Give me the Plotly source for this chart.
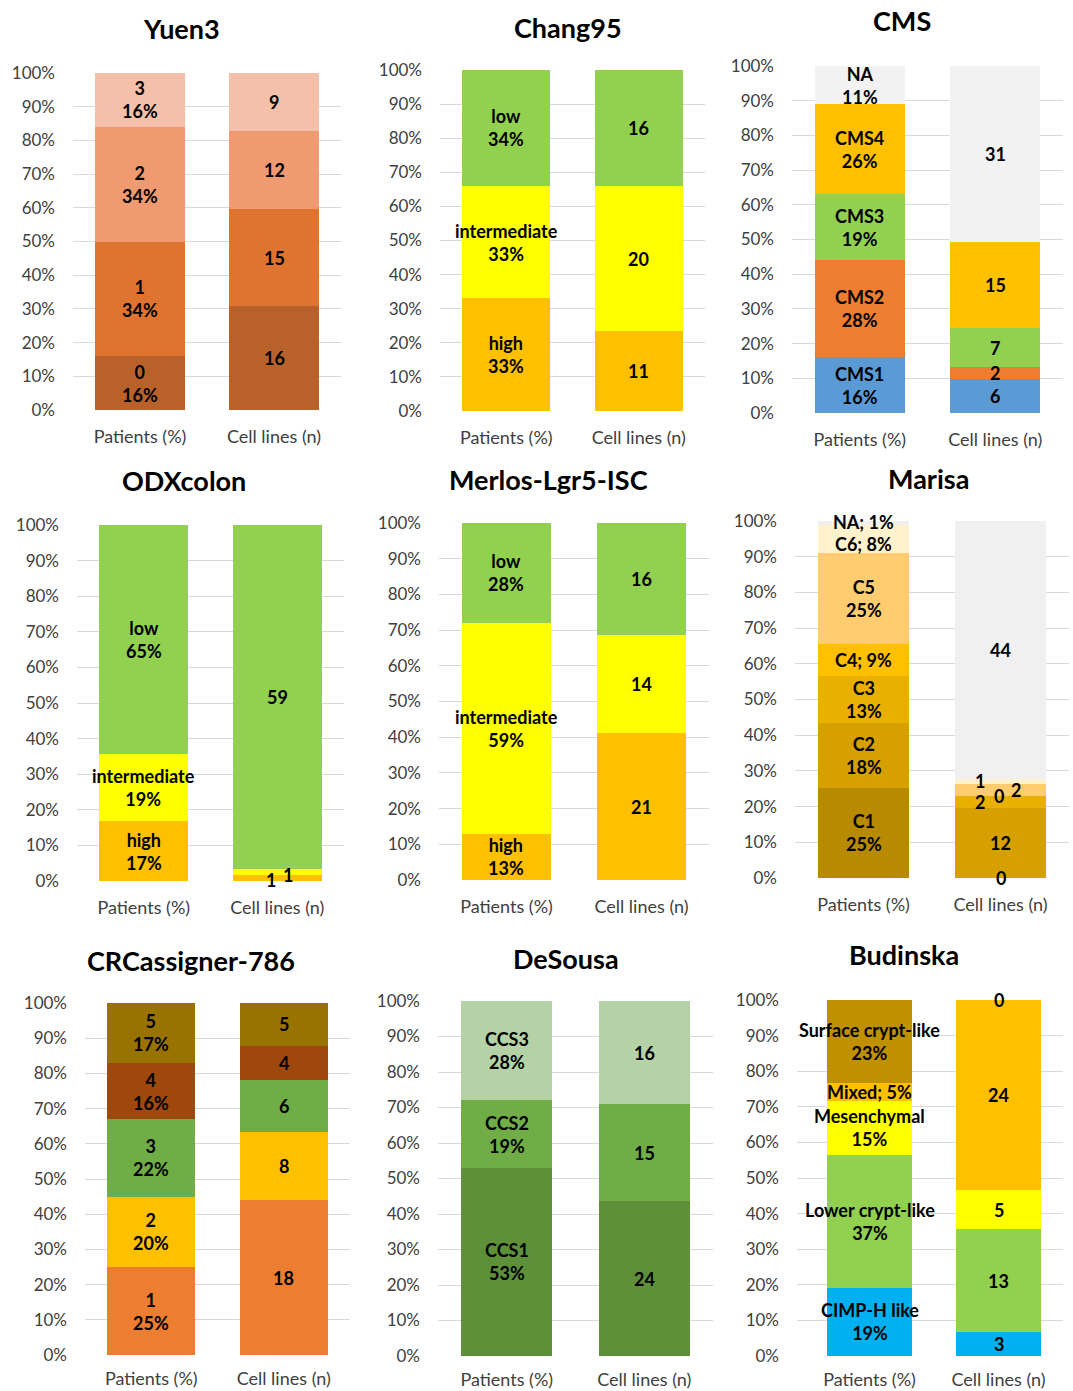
import plotly.graph_objects as go

W, H = 1073, 1391
CATS = ["Patients (%)", "Cell lines (n)"]

# ---------------- DATA ----------------
yuen3_groups = ["0", "1", "2", "3"]
yuen3_patients = [16, 34, 34, 16]
yuen3_cells = [16, 15, 12, 9]

chang95_groups = ["high", "intermediate", "low"]
chang95_patients = [33, 33, 34]
chang95_cells = [11, 20, 16]

cms_groups = ["CMS1", "CMS2", "CMS3", "CMS4", "NA"]
cms_patients = [16, 28, 19, 26, 11]
cms_cells = [6, 2, 7, 15, 31]

odx_groups = ["high", "intermediate", "low"]
odx_patients = [17, 19, 65]
odx_cells = [1, 1, 59]

merlos_groups = ["high", "intermediate", "low"]
merlos_patients = [13, 59, 28]
merlos_cells = [21, 14, 16]

marisa_groups = ["C1", "C2", "C3", "C4", "C5", "C6", "NA"]
marisa_patients = [25, 18, 13, 9, 25, 8, 1]
marisa_cells = [0, 12, 2, 0, 2, 1, 44]

crc_groups = ["1", "2", "3", "4", "5"]
crc_patients = [25, 20, 22, 16, 17]
crc_cells = [18, 8, 6, 4, 5]

desousa_groups = ["CCS1", "CCS2", "CCS3"]
desousa_patients = [53, 19, 28]
desousa_cells = [24, 15, 16]

budinska_groups = ["CIMP-H like", "Lower crypt-like", "Mesenchymal", "Mixed", "Surface crypt-like"]
budinska_patients = [19, 37, 15, 5, 23]
budinska_cells = [3, 13, 5, 24, 0]

# ---------------- STYLE ----------------
yuen3_colors = ["#B9612A", "#DF7430", "#F09A72", "#F5C0AA"]
chang95_colors = ["#FFC000", "#FFFF00", "#92D050"]
cms_colors = ["#5B9BD5", "#ED7D31", "#92D050", "#FFC000", "#F2F2F2"]
odx_colors = ["#FFC000", "#FFFF00", "#92D050"]
merlos_colors = ["#FFC000", "#FFFF00", "#92D050"]
marisa_colors = ["#B88A00", "#D6A100", "#EAB000", "#FFC000", "#FFCD70", "#FFF2CC", "#F0F0F0"]
crc_colors = ["#ED7D31", "#FFC000", "#70AD47", "#9E480E", "#997300"]
desousa_colors = ["#5E903A", "#70AD47", "#B4D2A6"]
budinska_colors = ["#00B0F0", "#92D050", "#FFFF00", "#FFC000", "#BF9000"]

# label layout: "two" lines or "one" line "name; x%"
marisa_fmt = ["two", "two", "two", "one", "two", "one", "one"]
budinska_fmt = ["two", "two", "two", "one", "two"]

# pixel offsets for crowded labels: (panel index, group index) -> (xshift, yshift)
cell_shift = {
    (3, 0): (-6, -2), (3, 1): (11, -3),
    (5, 2): (-21, 0), (5, 3): (-2, 0), (5, 4): (15, 0), (5, 5): (-21, 0),
}
pat_shift = {
    (5, 5): (0, -5), (5, 6): (0, 1),
}

panels = [
    ("Yuen3", yuen3_groups, yuen3_patients, yuen3_cells, yuen3_colors, None),
    ("Chang95", chang95_groups, chang95_patients, chang95_cells, chang95_colors, None),
    ("CMS", cms_groups, cms_patients, cms_cells, cms_colors, None),
    ("ODXcolon", odx_groups, odx_patients, odx_cells, odx_colors, None),
    ("Merlos-Lgr5-ISC", merlos_groups, merlos_patients, merlos_cells, merlos_colors, None),
    ("Marisa", marisa_groups, marisa_patients, marisa_cells, marisa_colors, marisa_fmt),
    ("CRCassigner-786", crc_groups, crc_patients, crc_cells, crc_colors, None),
    ("DeSousa", desousa_groups, desousa_patients, desousa_cells, desousa_colors, None),
    ("Budinska", budinska_groups, budinska_patients, budinska_cells, budinska_colors, budinska_fmt),
]

# plot area geometry in pixels: x0, x1, y_top(100%), y_bottom(0%), title_x, title_y
geom = [
    (73, 341, 73, 410, 181, 28),
    (440, 705, 70, 411, 568, 27),
    (792, 1063, 66, 413, 902, 20),
    (77, 344, 525, 881, 184, 481),
    (439, 709, 523, 880, 548, 479),
    (795, 1069, 521, 878, 928, 478),
    (85, 350, 1003, 1355, 191, 960),
    (438, 713, 1001, 1356, 566, 958),
    (797, 1063, 1000, 1356, 904, 955),
]
# x tick label gap below the 0% line, per row
label_gap = [14, 14, 14, 14, 14, 14, 11, 11, 11]

FONT = "Lato, 'Open Sans', sans-serif"
TICK_COLOR = "#404040"

fig = go.Figure()
layout = dict(
    width=W, height=H,
    margin=dict(l=0, r=0, t=0, b=0, pad=0, autoexpand=False),
    paper_bgcolor="white", plot_bgcolor="white",
    barmode="stack", barnorm="percent", bargap=0.335,
    showlegend=False,
    font=dict(family=FONT, color=TICK_COLOR),
)
annotations = []

for i, (p, g) in enumerate(zip(panels, geom)):
    title, groups, pat, cell, colors, fmt = p
    n = i + 1
    xa = "x" if n == 1 else f"x{n}"
    ya = "y" if n == 1 else f"y{n}"
    for gname, pv, cv, col in zip(groups, pat, cell, colors):
        fig.add_trace(go.Bar(
            x=CATS, y=[pv, cv], name=gname,
            marker=dict(color=col, line=dict(width=0)),
            xaxis=xa, yaxis=ya, hoverinfo="skip", showlegend=False,
        ))
    x0, x1, yt, yb, tx, ty = g
    layout[f"xaxis{n}"] = dict(
        domain=[x0 / W, x1 / W], anchor=ya, type="category",
        categoryorder="array", categoryarray=CATS,
        showgrid=False, showline=False, zeroline=False, ticks="",
        tickfont=dict(family=FONT, size=18, color=TICK_COLOR),
        ticklabelstandoff=label_gap[i], fixedrange=True, automargin=False,
    )
    layout[f"yaxis{n}"] = dict(
        domain=[1 - yb / H, 1 - yt / H], anchor=xa,
        range=[0, 100], dtick=10, tick0=0, ticksuffix="%",
        showgrid=True, gridcolor="#D9D9D9", gridwidth=1,
        zeroline=False, showline=False, ticks="",
        tickfont=dict(family=FONT, size=17, color=TICK_COLOR),
        ticklabelstandoff=17, fixedrange=True, automargin=False,
    )
    # title
    annotations.append(dict(
        text=f"<b>{title}</b>", x=tx / W, y=1 - ty / H, xref="paper", yref="paper",
        xanchor="center", yanchor="middle", showarrow=False,
        font=dict(family=FONT, size=27, color="#000000"),
    ))
    # segment labels
    for series_name, vals, is_pat in ((CATS[0], pat, True), (CATS[1], cell, False)):
        tot = float(sum(vals))
        cum = 0.0
        for k, v in enumerate(vals):
            share = v / tot * 100
            mid = cum + share / 2
            cum += share
            if is_pat:
                sep = "; " if (fmt is not None and fmt[k] == "one") else "<br>"
                txt = f"<b>{groups[k]}{sep}{v}%</b>"
                xs, ys = pat_shift.get((i, k), (0, 0))
            else:
                txt = f"<b>{v}</b>"
                xs, ys = cell_shift.get((i, k), (0, 0))
            annotations.append(dict(
                text=txt, x=series_name, y=mid, xref=xa, yref=ya,
                xanchor="center", yanchor="middle", showarrow=False,
                xshift=xs, yshift=ys, align="center",
                font=dict(family=FONT, size=18, color="#000000"),
            ))

layout["annotations"] = annotations
fig.update_layout(**layout)
fig.write_html(
    "out.html",
    config={"displayModeBar": False, "staticPlot": True},
    post_script="document.body.style.margin='0';document.body.style.padding='0';",
)
